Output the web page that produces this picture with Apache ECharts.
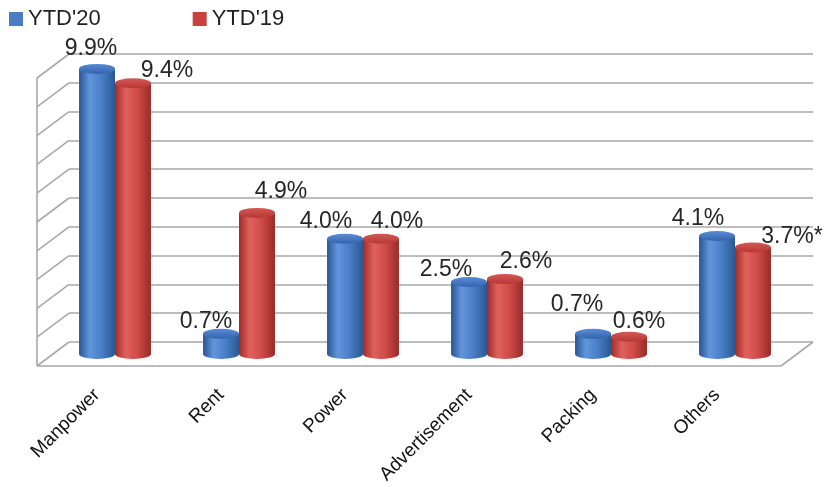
<!DOCTYPE html>
<html>
<head>
<meta charset="utf-8">
<script src="https://cdn.jsdelivr.net/npm/echarts@6/dist/echarts.min.js"></script>
<style>
  html, body { margin: 0; padding: 0; background: #ffffff; }
  #chart { width: 829px; height: 487px; }
</style>
</head>
<body>
<div id="chart"></div>
<script>
// Expense ratios by head, current vs previous year-to-date
const categories = ['Manpower', 'Rent', 'Power', 'Advertisement', 'Packing', 'Others'];
const ytd20 = [9.9, 0.7, 4.0, 2.5, 0.7, 4.1];
const ytd19 = [9.4, 4.9, 4.0, 2.6, 0.6, 3.7];
const ytd19Notes = ['', '', '', '', '', '*'];
const seriesNames = ["YTD'20", "YTD'19"];
const valueAxisMin = 0;
const valueAxisMax = 10;
const valueAxisStep = 1;

// Hand placement of the value labels, [dx, dy] from each cylinder top
const labelNudge20 = [[-6, -20], [-15, -12], [-19, -17], [-23, -12], [-16, -29], [-19, -17]];
const labelNudge19 = [[34, -13], [24, -21], [16, -17], [21, -17], [10, -15], [39, -11]];

// Box geometry: bars stand in the middle plane, walls are offset by half the depth
const DX = 16, DY = 12;
const plot = { left: 53, right: 32, top: 66, bottom: 133 };
const LINE = '#a9a9a9';
const FONT = '"Liberation Sans", Arial, sans-serif';

const tickValues = [];
for (let v = valueAxisMin; v <= valueAxisMax; v += valueAxisStep) tickValues.push(v);

const palette = {
  blue: {
    legend: '#4a7cc4',
    body: [[0, '#2a5690'], [0.3, '#6195dd'], [0.62, '#4a7ec7'], [1, '#2b5893']],
    top: [[0, '#5a8cd4'], [1, '#3463ad']]
  },
  red: {
    legend: '#c9423f',
    body: [[0, '#9e2b29'], [0.3, '#e1615c'], [0.62, '#cf4c48'], [1, '#9a2a28']],
    top: [[0, '#d45854'], [1, '#b53835']]
  }
};

function grad(stops, vertical) {
  return new echarts.graphic.LinearGradient(0, 0, vertical ? 0 : 1, vertical ? 1 : 0,
    stops.map(s => ({ offset: s[0], color: s[1] })));
}

function cylinderRenderer(side, pal, nudges, notes) {
  return function (params, api) {
    const idx = api.value(0);
    const v = api.value(1);
    const top = api.coord([idx, v]);
    const base = api.coord([idx, 0]);
    const band = api.size([1, 0])[0];
    const w = band * 0.29;
    const rx = w / 2, ry = 5;
    const cx = base[0] + side * w / 2;
    const nudge = nudges[idx] || [0, 0];
    const note = notes ? notes[idx] : '';
    return {
      type: 'group',
      children: [
        {
          type: 'circle',
          shape: { cx: 0, cy: 0, r: rx },
          x: cx, y: base[1], scaleY: ry / rx,
          style: { fill: grad(pal.body, false) }
        },
        {
          type: 'rect',
          shape: { x: cx - rx, y: top[1], width: w, height: base[1] - top[1] },
          style: { fill: grad(pal.body, false) }
        },
        {
          type: 'circle',
          shape: { cx: 0, cy: 0, r: rx },
          x: cx, y: top[1], scaleY: ry / rx,
          style: { fill: grad(pal.top, true) }
        },
        {
          type: 'text',
          x: cx + nudge[0], y: top[1] + nudge[1],
          style: {
            text: v.toFixed(1) + '%' + note,
            fill: '#262626',
            font: '23px ' + FONT,
            align: 'center',
            verticalAlign: 'middle'
          }
        }
      ]
    };
  };
}

// Side wall rungs, floor and front edge drawn on the back-wall grid
function frameRenderer(params, api) {
  const v = api.value(1);
  const cs = params.coordSys;
  const y = api.coord([0, v])[1];
  const style = { stroke: LINE, lineWidth: 1.6 };
  const children = [
    { type: 'line', shape: { x1: cs.x - 2 * DX, y1: y + 2 * DY, x2: cs.x, y2: y }, style }
  ];
  if (v === valueAxisMin) {
    const yTop = api.coord([0, valueAxisMax])[1];
    const xr = cs.x + cs.width;
    children.push(
      { type: 'line', shape: { x1: cs.x - 2 * DX, y1: y + 2 * DY, x2: xr - 2 * DX, y2: y + 2 * DY }, style },
      { type: 'line', shape: { x1: xr - 2 * DX, y1: y + 2 * DY, x2: xr, y2: y }, style },
      { type: 'line', shape: { x1: cs.x - 2 * DX, y1: y + 2 * DY, x2: cs.x - 2 * DX, y2: yTop + 2 * DY }, style }
    );
  }
  return { type: 'group', children };
}

const chart = echarts.init(document.getElementById('chart'), null, { renderer: 'canvas' });

chart.setOption({
  backgroundColor: '#ffffff',
  animation: false,
  textStyle: { fontFamily: FONT },
  legend: {
    left: 4, top: 3,
    icon: 'rect',
    itemWidth: 14, itemHeight: 14, itemGap: 92,
    textStyle: { fontSize: 22, color: '#1f1f1f', fontFamily: FONT },
    data: seriesNames
  },
  grid: [
    // bar plane
    { left: plot.left, right: plot.right, top: plot.top, bottom: plot.bottom },
    // back wall
    { left: plot.left + DX, right: plot.right - DX, top: plot.top - DY, bottom: plot.bottom + DY },
    // category labels, shifted toward the front-left
    { left: plot.left - 18, right: plot.right + 18, top: plot.top, bottom: plot.bottom }
  ],
  xAxis: [
    { type: 'category', gridIndex: 0, data: categories, show: false },
    { type: 'category', gridIndex: 1, data: categories, show: false },
    {
      type: 'category', gridIndex: 2, data: categories,
      axisLine: { show: false }, axisTick: { show: false },
      axisLabel: { rotate: 45, margin: 38, fontSize: 19, color: '#111111', fontFamily: FONT, interval: 0 }
    }
  ],
  yAxis: [
    { type: 'value', gridIndex: 0, min: valueAxisMin, max: valueAxisMax, interval: valueAxisStep, show: false },
    {
      type: 'value', gridIndex: 1, min: valueAxisMin, max: valueAxisMax, interval: valueAxisStep,
      axisLine: { show: false }, axisTick: { show: false }, axisLabel: { show: false },
      splitLine: { show: true, lineStyle: { color: LINE, width: 1.6 } }
    },
    { type: 'value', gridIndex: 2, min: valueAxisMin, max: valueAxisMax, show: false }
  ],
  series: [
    {
      type: 'custom', name: 'frame', xAxisIndex: 1, yAxisIndex: 1, silent: true,
      renderItem: frameRenderer,
      data: tickValues.map(v => [0, v]),
      z: 1
    },
    {
      type: 'custom', name: seriesNames[0], xAxisIndex: 0, yAxisIndex: 0,
      itemStyle: { color: palette.blue.legend },
      renderItem: cylinderRenderer(-1, palette.blue, labelNudge20, null),
      data: ytd20.map((v, i) => [i, v]),
      z: 3
    },
    {
      type: 'custom', name: seriesNames[1], xAxisIndex: 0, yAxisIndex: 0,
      itemStyle: { color: palette.red.legend },
      renderItem: cylinderRenderer(1, palette.red, labelNudge19, ytd19Notes),
      data: ytd19.map((v, i) => [i, v]),
      z: 3
    }
  ]
});
</script>
</body>
</html>
